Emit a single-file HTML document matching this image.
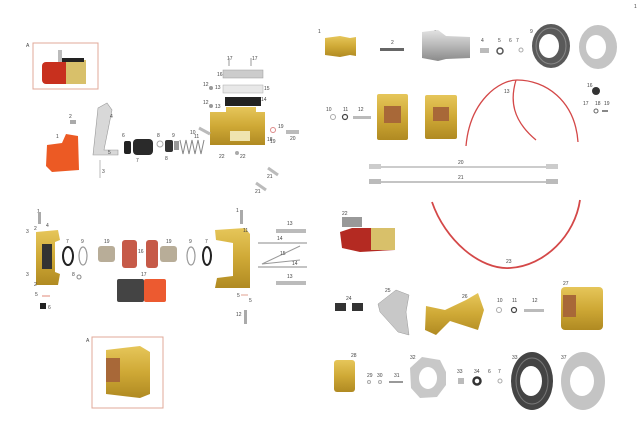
<!DOCTYPE html>
<html><head><meta charset="utf-8"><style>
html,body{margin:0;padding:0;background:#fff;width:640px;height:426px;overflow:hidden}
svg{display:block}
text{font-family:"Liberation Sans",sans-serif;font-size:5px;fill:#444}
</style></head><body>
<svg width="640" height="426" viewBox="0 0 640 426" xmlns="http://www.w3.org/2000/svg">
<defs>
<linearGradient id="gold" x1="0" y1="0" x2="0" y2="1"><stop offset="0" stop-color="#e6c65a"/><stop offset=".5" stop-color="#cfa936"/><stop offset="1" stop-color="#b08a22"/></linearGradient>
<linearGradient id="silver" x1="0" y1="0" x2="0" y2="1"><stop offset="0" stop-color="#e2e2e2"/><stop offset=".5" stop-color="#b8b8b8"/><stop offset="1" stop-color="#8a8a8a"/></linearGradient>
</defs>
<text x="634" y="8">1</text>
<!-- Top-left box A -->
<text x="26" y="47">A</text>
<rect x="33" y="43" width="65" height="46" fill="#fff" stroke="#e0a898" stroke-width="1"/>
<rect x="58" y="50" width="4" height="12" fill="#bbb"/>
<rect x="42" y="62" width="28" height="22" rx="4" fill="#c8301e"/>
<rect x="66" y="60" width="20" height="24" fill="#d8c06a"/>
<rect x="62" y="58" width="22" height="4" fill="#222"/>
<!-- red cap 1 -->
<text x="56" y="138">1</text>
<path d="M47 145 L62 143 L66 134 L78 136 L79 170 L52 172 L46 166 Z" fill="#ec5a24"/>
<text x="69" y="118">2</text><rect x="70" y="120" width="6" height="4" fill="#aaa"/>
<!-- bracket -->
<path d="M98 108 L107 103 L112 110 L104 150 L118 150 L118 155 L93 155 Z" fill="#d8d8d8" stroke="#999" stroke-width=".6"/>
<text x="110" y="118">4</text><text x="108" y="154">5</text><text x="102" y="173">3</text>
<line x1="100" y1="160" x2="100" y2="178" stroke="#bbb"/>
<!-- seals -->
<rect x="124" y="141" width="7" height="13" rx="2" fill="#222"/>
<rect x="133" y="139" width="20" height="16" rx="4" fill="#2a2a2a"/>
<text x="122" y="137">6</text><text x="136" y="162">7</text>
<circle cx="160" cy="144" r="3" fill="none" stroke="#aaa"/><text x="157" y="137">8</text>
<rect x="165" y="140" width="8" height="12" rx="2" fill="#333"/><text x="165" y="160">8</text>
<text x="172" y="137">9</text><rect x="174" y="141" width="5" height="9" fill="#999"/>
<path d="M180 140 l3 14 l3 -14 l3 14 l3 -14 l3 14 l3 -14 l3 14 l3 -14" fill="none" stroke="#888" stroke-width="1"/>
<text x="190" y="134">10</text>
<!-- master body 18 -->
<path d="M210 112 L226 112 L226 107 L256 107 L256 112 L265 112 L265 145 L210 145 Z" fill="url(#gold)"/>
<rect x="230" y="131" width="20" height="10" fill="#efe4b0"/>
<text x="267" y="141">18</text>
<rect x="223" y="70" width="40" height="8" fill="#ccc" stroke="#999" stroke-width=".5"/><text x="217" y="76">16</text>
<rect x="223" y="85" width="40" height="8" fill="#e8e8e8" stroke="#aaa" stroke-width=".5"/><text x="264" y="90">15</text>
<rect x="225" y="97" width="36" height="9" fill="#222"/><text x="261" y="101">14</text>
<text x="227" y="60">17</text><text x="252" y="60">17</text>
<line x1="229" y1="58" x2="229" y2="66" stroke="#999"/><line x1="251" y1="58" x2="251" y2="66" stroke="#999"/>
<text x="203" y="86">12</text><circle cx="211" cy="88" r="2" fill="#999"/><text x="215" y="89">13</text>
<text x="203" y="104">12</text><circle cx="211" cy="106" r="2" fill="#999"/><text x="215" y="108">13</text>
<line x1="199" y1="128" x2="210" y2="134" stroke="#bbb" stroke-width="3"/><text x="194" y="138">11</text>
<circle cx="273" cy="130" r="2.5" fill="none" stroke="#d88"/><text x="278" y="128">19</text><text x="270" y="143">19</text>
<rect x="286" y="130" width="13" height="4" fill="#bbb"/><text x="290" y="140">20</text>
<line x1="268" y1="168" x2="278" y2="175" stroke="#bbb" stroke-width="3"/><text x="267" y="178">21</text>
<line x1="256" y1="183" x2="266" y2="190" stroke="#bbb" stroke-width="3"/><text x="255" y="193">21</text>
<text x="219" y="158">22</text><circle cx="237" cy="153" r="2" fill="#aaa"/><text x="240" y="158">22</text>

<!-- Top right -->
<text x="318" y="33">1</text>
<path d="M325 38 L340 36 L350 38 L356 37 L356 56 L350 55 L340 57 L325 55 Z" fill="url(#gold)"/>
<text x="391" y="44">2</text><rect x="380" y="48" width="24" height="3" fill="#666"/>
<text x="434" y="34">3</text>
<path d="M422 32 L438 30 L446 36 L470 37 L470 58 L446 59 L438 61 L422 58 Z" fill="url(#silver)"/>
<text x="481" y="42">4</text><rect x="480" y="48" width="9" height="5" fill="#bbb"/>
<text x="498" y="42">5</text><circle cx="500" cy="51" r="3" fill="none" stroke="#555" stroke-width="1.5"/>
<text x="509" y="42">6</text><text x="516" y="42">7</text><circle cx="521" cy="50" r="2" fill="none" stroke="#aaa"/>
<text x="530" y="33">9</text>
<ellipse cx="551" cy="46" rx="19" ry="22" fill="#5a5a5a"/><ellipse cx="551" cy="46" rx="15" ry="18" fill="none" stroke="#888" stroke-width="1"/><ellipse cx="549" cy="46" rx="10" ry="12" fill="#fff"/>
<ellipse cx="598" cy="47" rx="19" ry="22" fill="#c4c4c4"/><ellipse cx="596" cy="47" rx="10" ry="12" fill="#fff"/>
<text x="326" y="111">10</text><circle cx="333" cy="117" r="2.5" fill="none" stroke="#aaa"/>
<text x="343" y="111">11</text><circle cx="345" cy="117" r="2.5" fill="none" stroke="#444" stroke-width="1.2"/>
<text x="358" y="111">12</text><rect x="353" y="116" width="18" height="3" fill="#bbb"/>
<text x="387" y="99">13</text>
<rect x="377" y="94" width="31" height="46" rx="2" fill="url(#gold)"/><rect x="384" y="106" width="17" height="17" fill="#a86838"/>
<text x="431" y="99">14</text>
<rect x="425" y="95" width="32" height="44" rx="2" fill="url(#gold)"/><rect x="433" y="107" width="16" height="14" fill="#a86838"/>
<path d="M466 146 C470 100 500 80 517 80 C545 80 575 100 578 142" fill="none" stroke="#d44848" stroke-width="1.3"/>
<path d="M516 80 C510 100 512 120 536 140" fill="none" stroke="#d44848" stroke-width="1.3"/>
<text x="504" y="93">13</text>
<text x="587" y="87">16</text><circle cx="596" cy="91" r="4" fill="#333"/>
<text x="583" y="105">17</text><text x="595" y="105">18</text><text x="604" y="105">19</text>
<circle cx="596" cy="111" r="2" fill="none" stroke="#666"/><rect x="602" y="110" width="6" height="2" fill="#888"/>
<text x="458" y="164">20</text>
<line x1="372" y1="167" x2="556" y2="167" stroke="#999" stroke-width="1"/>
<rect x="369" y="164" width="12" height="5" fill="#ccc"/><rect x="546" y="164" width="12" height="5" fill="#ccc"/>
<text x="458" y="179">21</text>
<line x1="372" y1="182" x2="556" y2="182" stroke="#888" stroke-width="1"/>
<rect x="369" y="179" width="12" height="5" fill="#bbb"/><rect x="546" y="179" width="12" height="5" fill="#bbb"/>

<!-- bottom left caliper -->
<text x="37" y="213">1</text><rect x="38" y="212" width="3" height="12" fill="#aaa"/>
<text x="46" y="227">4</text><text x="26" y="233">3</text><text x="34" y="230">2</text>
<path d="M36 232 L58 230 L60 240 L55 242 L55 272 L60 274 L58 285 L36 285 Z" fill="url(#gold)"/>
<rect x="42" y="244" width="10" height="25" fill="#333"/>
<ellipse cx="68" cy="256" rx="5" ry="9" fill="none" stroke="#222" stroke-width="2"/><text x="66" y="243">7</text>
<ellipse cx="83" cy="256" rx="4" ry="9" fill="none" stroke="#999" stroke-width="1.2"/><text x="81" y="243">9</text>
<text x="72" y="276">8</text><circle cx="79" cy="277" r="2" fill="none" stroke="#888"/>
<text x="26" y="276">3</text><text x="34" y="286">2</text>
<text x="35" y="296">5</text><line x1="42" y1="296" x2="50" y2="296" stroke="#e08a7a"/>
<rect x="40" y="303" width="6" height="6" fill="#222"/><text x="48" y="309">6</text>
<text x="104" y="243">19</text>
<rect x="98" y="246" width="17" height="16" rx="3" fill="#b8ad98"/>
<rect x="122" y="240" width="15" height="28" rx="3" fill="#c65a48"/>
<rect x="146" y="240" width="12" height="28" rx="3" fill="#c65a48"/>
<text x="138" y="253">16</text>
<text x="166" y="243">19</text>
<rect x="160" y="246" width="17" height="16" rx="3" fill="#b8ad98"/>
<ellipse cx="191" cy="256" rx="4" ry="9" fill="none" stroke="#999" stroke-width="1.2"/><text x="189" y="243">9</text>
<ellipse cx="207" cy="256" rx="4" ry="9" fill="none" stroke="#222" stroke-width="2"/><text x="205" y="243">7</text>
<text x="141" y="276">17</text>
<rect x="117" y="279" width="27" height="23" rx="2" fill="#444"/>
<rect x="144" y="279" width="22" height="23" rx="2" fill="#ec5a30"/>
<text x="236" y="212">1</text><rect x="240" y="210" width="3" height="14" fill="#aaa"/>
<path d="M215 230 L245 228 L250 234 L250 288 L215 288 L217 278 L233 276 L233 243 L216 240 Z" fill="url(#gold)"/>
<text x="243" y="232">11</text>
<rect x="276" y="229" width="30" height="4" fill="#bbb"/><text x="287" y="225">13</text>
<line x1="258" y1="243" x2="307" y2="243" stroke="#888"/><text x="277" y="240">14</text>
<path d="M300 246 L262 264 L300 260" fill="none" stroke="#999"/><text x="280" y="255">15</text>
<line x1="258" y1="267" x2="307" y2="267" stroke="#888"/><text x="292" y="265">14</text>
<rect x="276" y="281" width="30" height="4" fill="#bbb"/><text x="287" y="278">13</text>
<text x="237" y="297">5</text><text x="249" y="302">5</text><line x1="241" y1="295" x2="248" y2="295" stroke="#e0a090"/>
<text x="236" y="316">12</text><rect x="244" y="310" width="3" height="14" fill="#aaa"/>
<!-- bottom box A -->
<text x="86" y="342">A</text>
<rect x="92" y="337" width="71" height="71" fill="#fff" stroke="#e0a898" stroke-width="1"/>
<path d="M106 350 L140 346 L150 352 L150 394 L140 398 L106 394 Z" fill="url(#gold)"/>
<rect x="106" y="358" width="14" height="24" fill="#a86838"/>

<!-- bottom right -->
<text x="342" y="215">22</text>
<path d="M340 232 L352 228 L375 228 L395 230 L395 250 L360 252 L342 248 Z" fill="#b42a22"/>
<rect x="371" y="228" width="24" height="22" fill="#d8c06a"/>
<rect x="342" y="217" width="20" height="10" fill="#999"/>
<path d="M432 202 C445 240 480 270 510 268 C545 266 575 235 580 200" fill="none" stroke="#d44848" stroke-width="1.8"/>
<text x="506" y="263">23</text>
<text x="346" y="300">24</text>
<rect x="335" y="303" width="11" height="8" fill="#333"/><rect x="352" y="303" width="11" height="8" fill="#333"/>
<text x="385" y="292">25</text>
<path d="M396 290 L409 295 L406 312 L409 335 L398 332 L380 312 L378 304 Z" fill="#c8c8c8" stroke="#999" stroke-width=".5"/>
<text x="462" y="298">26</text>
<path d="M426 306 L445 310 L466 300 L478 293 L484 310 L478 330 L450 321 L436 335 L425 330 Z" fill="url(#gold)"/>
<text x="497" y="302">10</text><circle cx="499" cy="310" r="2.5" fill="none" stroke="#aaa"/>
<text x="512" y="302">11</text><circle cx="514" cy="310" r="2.5" fill="none" stroke="#444" stroke-width="1.2"/>
<text x="532" y="302">12</text><rect x="524" y="309" width="20" height="3" fill="#bbb"/>
<text x="563" y="285">27</text>
<rect x="561" y="287" width="42" height="43" rx="4" fill="url(#gold)"/><rect x="563" y="295" width="13" height="22" fill="#a86838"/>
<text x="351" y="357">28</text>
<rect x="334" y="360" width="21" height="32" rx="3" fill="url(#gold)"/>
<text x="367" y="377">29</text><circle cx="369" cy="382" r="1.5" fill="none" stroke="#aaa"/>
<text x="377" y="377">30</text><circle cx="380" cy="382" r="1.5" fill="none" stroke="#aaa"/>
<text x="394" y="377">31</text><rect x="389" y="381" width="14" height="2" fill="#999"/>
<text x="410" y="359">32</text>
<path d="M422 357 L440 360 L446 372 L446 385 L437 397 L420 398 L411 388 L410 368 Z" fill="#c8c8c8"/>
<ellipse cx="428" cy="378" rx="9" ry="11" fill="#fff"/>
<text x="457" y="373">33</text><rect x="458" y="378" width="6" height="6" fill="#bbb"/>
<text x="474" y="373">34</text><circle cx="477" cy="381" r="3.5" fill="none" stroke="#333" stroke-width="2.5"/>
<text x="488" y="373">6</text><text x="498" y="373">7</text><circle cx="500" cy="381" r="2" fill="none" stroke="#aaa"/>
<text x="512" y="359">33</text>
<ellipse cx="532" cy="381" rx="21" ry="29" fill="#444"/><ellipse cx="532" cy="381" rx="16" ry="23" fill="none" stroke="#777" stroke-width="1"/><ellipse cx="531" cy="381" rx="11" ry="15" fill="#fff"/>
<text x="561" y="359">37</text>
<ellipse cx="583" cy="381" rx="22" ry="29" fill="#c4c4c4"/><ellipse cx="582" cy="381" rx="12" ry="15" fill="#fff"/>
</svg>
</body></html>
